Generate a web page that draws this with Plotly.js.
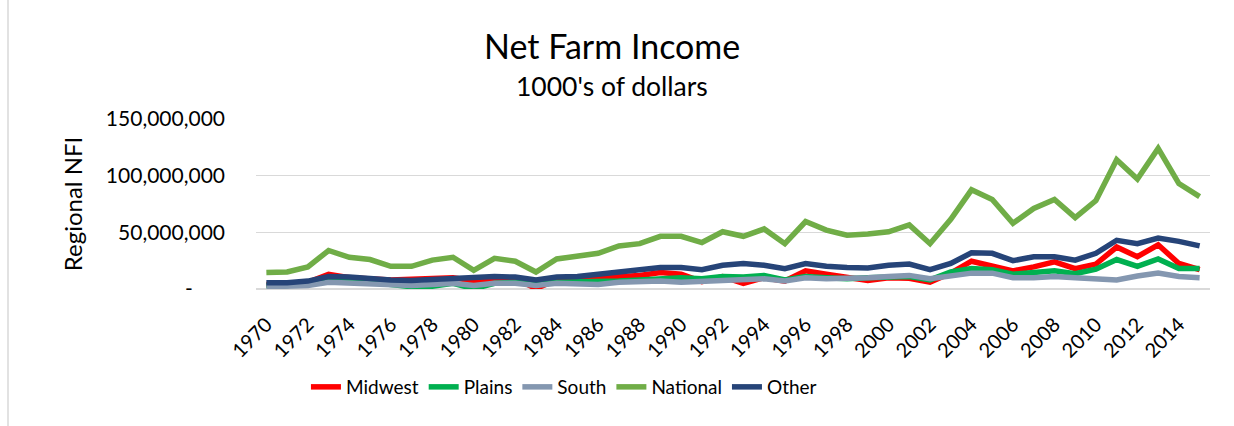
<!DOCTYPE html>
<html>
<head>
<meta charset="utf-8">
<script src="https://cdn.plot.ly/plotly-3.0.1.min.js"></script>
<style>html,body{margin:0;padding:0;background:#fff;}#chart{width:1234px;height:426px;}</style>
</head>
<body>
<div id="chart"></div>
<script>
const years = [];
for (let y = 1970; y <= 2015; y++) years.push(String(y));

const midwest = [4e6,4e6,6e6,13e6,10e6,9e6,8e6,8.5e6,9e6,10e6,7e6,9e6,9e6,0.5e6,8e6,9e6,10e6,12e6,12e6,14.5e6,13e6,6.5e6,11e6,5e6,10e6,7e6,16e6,13e6,10e6,7.5e6,10e6,9.5e6,6e6,14e6,24.5e6,20e6,16e6,19.5e6,24e6,18e6,22e6,37e6,28.5e6,39e6,22.5e6,17e6];
const plains = [3e6,3e6,5e6,9e6,8e6,6e6,3e6,2e6,2.5e6,5e6,0.3e6,5e6,6e6,5e6,6e6,6e6,6e6,7e6,8e6,9e6,10e6,9e6,11e6,10.5e6,12e6,8e6,11e6,10e6,9e6,10e6,10e6,11e6,8e6,15e6,18e6,17e6,13e6,14e6,16e6,13.5e6,17.5e6,26e6,20e6,26.5e6,18e6,18e6];
const south = [2e6,2e6,3e6,6e6,5e6,4e6,3e6,3e6,4e6,5e6,3e6,5e6,5e6,3e6,5e6,5e6,4e6,6e6,7e6,7e6,6e6,7e6,8e6,8e6,9e6,7e6,10e6,9e6,9e6,10e6,11e6,12e6,9e6,12e6,14e6,14e6,10e6,10e6,11e6,10e6,9.5e6,8e6,11.5e6,14e6,11e6,10e6];
const national = [14.5e6,15e6,19.5e6,34e6,28e6,26e6,20e6,20e6,25.5e6,28e6,16.5e6,27e6,24.5e6,15e6,26.5e6,29e6,31.5e6,38e6,40e6,46.5e6,46.5e6,41e6,50.5e6,46.5e6,53e6,40e6,59.5e6,52e6,47.5e6,48.5e6,50.5e6,56.5e6,40e6,61.5e6,87.5e6,79e6,58e6,71e6,79e6,63e6,78e6,114e6,97e6,124e6,93e6,81.5e6];
const other = [5.5e6,5.5e6,7e6,11e6,10.5e6,9e6,8e6,7.5e6,8.5e6,9e6,10e6,11e6,10.5e6,8e6,10.5e6,11e6,13e6,15e6,17e6,19e6,19e6,17e6,21e6,22.5e6,21e6,18e6,22.5e6,20e6,19e6,18.5e6,21e6,22e6,17e6,22.5e6,32e6,31.5e6,25e6,28.5e6,28.5e6,25.5e6,31.5e6,43e6,40e6,45e6,42e6,38e6];

const seriesNames = ["Midwest","Plains","South","National","Other"];
const seriesData = [midwest, plains, south, national, other];
const seriesColors = ["#FF0000","#00B050","#8497B0","#70AD47","#264478"];

const yTickVals = [0, 50e6, 100e6, 150e6];
const yTickText = ["-\u00a0\u00a0\u00a0\u00a0\u00a0\u00a0", "50,000,000", "100,000,000", "150,000,000"];

const FONT = "Lato, 'Noto Sans', sans-serif";

const traces = seriesNames.map((n, i) => ({
  type: "scatter",
  mode: "lines",
  name: n,
  x: years,
  y: seriesData[i],
  line: {color: seriesColors[i], width: 5.5},
  hoverinfo: "x+y+name"
}));

const PH = 170, PW = 954;
const layout = {
  width: 1234,
  height: 426,
  margin: {l: 256, r: 24, t: 119, b: 137},
  paper_bgcolor: "#ffffff",
  plot_bgcolor: "#ffffff",
  font: {family: FONT, color: "#000000"},
  annotations: [{
    text: "Net Farm Income",
    xref: "paper", yref: "paper",
    x: (612 - 256) / PW, y: 1 + (119 - 45) / PH,
    xanchor: "center", yanchor: "middle",
    showarrow: false,
    font: {size: 34, family: FONT, color: "#000000"}
  }, {
    text: "1000's of dollars",
    xref: "paper", yref: "paper",
    x: (612 - 256) / PW, y: 1 + (119 - 86) / PH,
    xanchor: "center", yanchor: "middle",
    showarrow: false,
    font: {size: 26.5, family: FONT, color: "#000000"}
  }],
  xaxis: {
    type: "category",
    range: [-0.5, 45.5],
    tickvals: years.filter((y, i) => i % 2 === 0),
    tickangle: -45,
    tickfont: {size: 20, family: FONT, color: "#000000"},
    showgrid: false,
    showline: false,
    zeroline: false,
    ticks: "",
    ticklabelstandoff: 19,
    fixedrange: true
  },
  yaxis: {
    range: [0, 150e6],
    tickvals: yTickVals,
    ticktext: yTickText,
    tickfont: {size: 21, family: FONT, color: "#000000"},
    showgrid: true,
    gridcolor: "#D9D9D9",
    gridwidth: 1.2,
    zeroline: true,
    zerolinecolor: "#D9D9D9",
    zerolinewidth: 1.2,
    showline: false,
    ticks: "",
    ticklabelstandoff: 30,
    title: {text: "Regional NFI", font: {size: 24, family: FONT, color: "#000000"}, standoff: 16},
    fixedrange: true
  },
  legend: {
    orientation: "h",
    xref: "container", yref: "container",
    x: 0.457, xanchor: "center",
    y: 1 - 387 / 426, yanchor: "middle",
    font: {size: 19, family: FONT, color: "#000000"},
    bgcolor: "rgba(0,0,0,0)",
    traceorder: "normal",
    itemwidth: 30
  },
  shapes: [{
    type: "line", xref: "paper", yref: "paper",
    x0: (8 - 256) / PW, x1: (8 - 256) / PW,
    y0: -137 / PH, y1: 1 + 119 / PH,
    line: {color: "#D9D9D9", width: 1.5}
  }],
  showlegend: true
};

Plotly.newPlot("chart", traces, layout, {displayModeBar: false, staticPlot: true});
</script>
</body>
</html>
